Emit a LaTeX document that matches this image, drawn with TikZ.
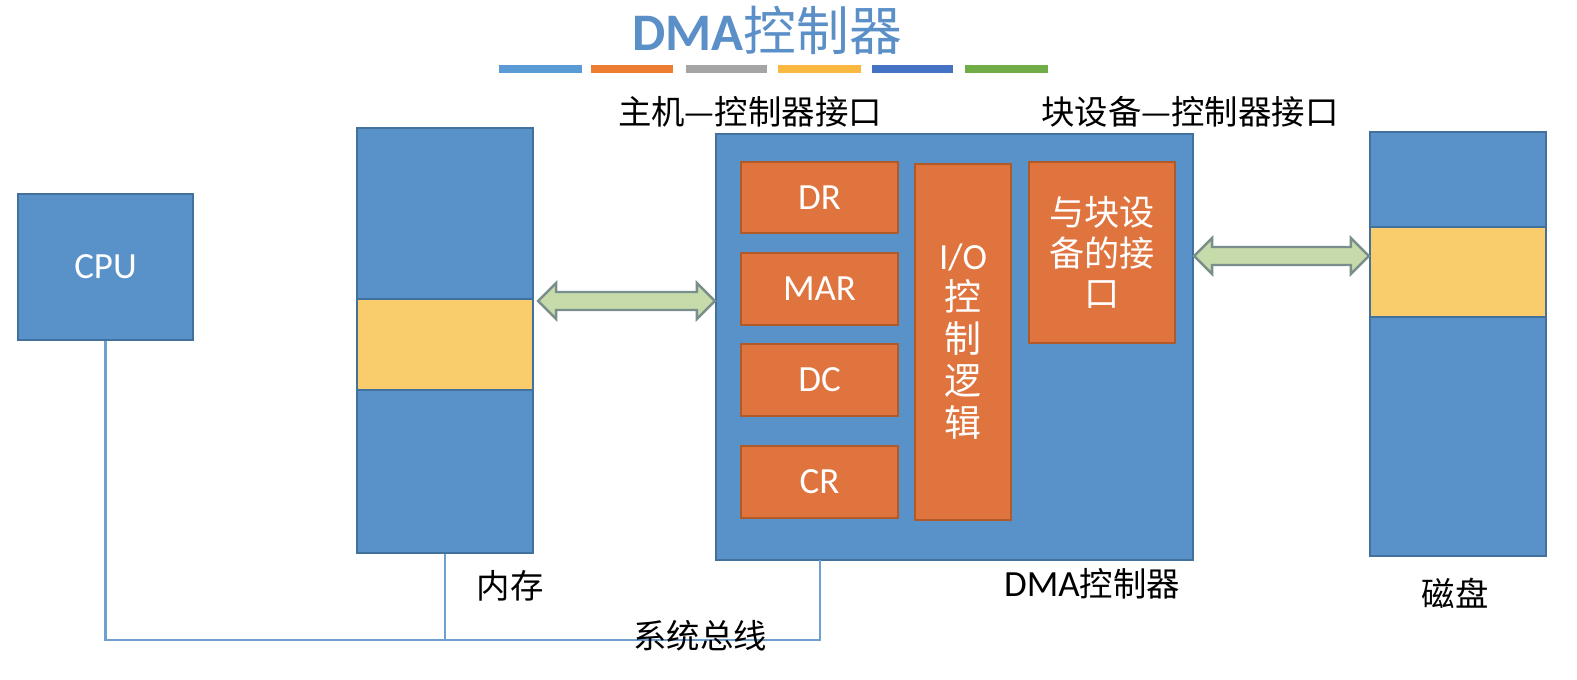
\documentclass[tikz,border=0pt]{standalone}
\usepackage{fontspec}
\setmainfont{Carlito}
\newfontfamily\cjk{Noto Sans CJK SC}
\usetikzlibrary{calc}
\definecolor{boxblue}{HTML}{5892C9}
\definecolor{boxblueline}{HTML}{41719C}
\definecolor{boxorange}{HTML}{E0743F}
\definecolor{boxorangeline}{HTML}{B05A2A}
\definecolor{boxyellow}{HTML}{F9CD6B}
\definecolor{titleblue}{HTML}{5B8FC8}
\definecolor{arrowfill}{HTML}{C6DAAA}
\definecolor{arrowline}{HTML}{7A8F8C}
\definecolor{busline}{HTML}{6FA0D0}
\definecolor{barA}{HTML}{5B9BD5}
\definecolor{barB}{HTML}{ED7D31}
\definecolor{barC}{HTML}{A5A5A5}
\definecolor{barD}{HTML}{F9B840}
\definecolor{barE}{HTML}{4472C4}
\definecolor{barF}{HTML}{70AD47}
\tikzset{
  bluebox/.style={draw=boxblueline, fill=boxblue, line width=0.6pt, inner sep=0pt, text=white, font=\fontsize{10.5}{12}\selectfont},
  orangebox/.style={draw=boxorangeline, fill=boxorange, line width=0.5pt, inner sep=0pt, text=white, align=center, font=\fontsize{10.5}{12}\selectfont},
  yellowband/.style={draw=boxblueline, fill=boxyellow, line width=0.5pt, inner sep=0pt},
  lbl/.style={text=black, inner sep=0pt, font=\cjk\fontsize{9.5}{11}\selectfont},
  darr/.style={draw=arrowline, fill=arrowfill, line width=0.7pt, line join=miter},
  bus/.style={draw=busline, line width=0.7pt},
  bar/.style={line width=0.07cm}
}
\begin{document}
\begin{tikzpicture}[x=0.01cm,y=-0.01cm]
\useasboundingbox (0,0) rectangle (1577,679);
% title
\node[text=titleblue, inner sep=0pt, font=\fontsize{15}{16}\selectfont] (title) at (767,30) {\textbf{DMA}{\cjk 控制器}};
\draw[bar, barA] (499,69) -- (582,69);
\draw[bar, barB] (591,69) -- (673,69);
\draw[bar, barC] (686,69) -- (767,69);
\draw[bar, barD] (778,69) -- (861,69);
\draw[bar, barE] (872,69) -- (953,69);
\draw[bar, barF] (965,69) -- (1048,69);
% CPU
\node[bluebox, minimum width=1.75cm, minimum height=1.46cm] (cpu) at (105.5,267) {CPU};
% memory
\node[bluebox, minimum width=1.76cm, minimum height=4.25cm] (mem) at (445,340.5) {};
\node[yellowband, minimum width=1.76cm, minimum height=0.91cm] (memY) at (445,344.5) {};
\node[lbl] (memL) at (510,586) {内存};
% DMA controller
\node[bluebox, minimum width=4.77cm, minimum height=4.26cm] (dma) at (954.5,347) {};
\node[orangebox, minimum width=1.57cm, minimum height=0.71cm] (dr) at (819.5,197.5) {DR};
\node[orangebox, minimum width=1.57cm, minimum height=0.72cm] (mar) at (819.5,289) {MAR};
\node[orangebox, minimum width=1.57cm, minimum height=0.72cm] (dc) at (819.5,380) {DC};
\node[orangebox, minimum width=1.57cm, minimum height=0.72cm] (cr) at (819.5,482) {CR};
\node[orangebox, minimum width=0.96cm, minimum height=3.56cm, font=\fontsize{10.5}{12}\selectfont] (io) at (963,342) {I/O\\[-0.5pt]{\cjk 控}\\{\cjk 制}\\{\cjk 逻}\\{\cjk 辑}};
\node[orangebox, minimum width=1.46cm, minimum height=1.81cm, font=\cjk\fontsize{10}{11.5}\selectfont] (blk) at (1102,252.5) {与块设\\备的接\\口};
\node[lbl] (dmaL) at (1092,584) {{\fontspec{Carlito}\fontsize{10.5}{12}\selectfont DMA}控制器};
\node[lbl] (hostL) at (750,112) {主机—控制器接口};
\node[lbl] (blkL) at (1190,112) {块设备—控制器接口};
% disk
\node[bluebox, minimum width=1.76cm, minimum height=4.24cm] (disk) at (1458,344) {};
\node[yellowband, minimum width=1.76cm, minimum height=0.90cm] (diskY) at (1458,272) {};
\node[lbl] (diskL) at (1455,593) {磁盘};
% double arrows
\coordinate (a1l) at (mem.east |- 0,301);
\coordinate (a1r) at (dma.west |- 0,301);
\draw[darr] ($(a1l)+(4,0)$) -- ++(18,-18) -- ++(0,9) -- ($(a1r)+(-18,-9)$) -- ++(0,-9) -- (a1r) -- ++(-18,18) -- ++(0,-9) -- ($(a1l)+(22,9)$) -- ++(0,9) -- cycle;
\coordinate (a2l) at (dma.east |- 0,256);
\coordinate (a2r) at (disk.west |- 0,256);
\draw[darr] (a2l) -- ++(18,-18) -- ++(0,9) -- ($(a2r)+(-18,-9)$) -- ++(0,-9) -- (a2r) -- ++(-18,18) -- ++(0,-9) -- ($(a2l)+(18,9)$) -- ++(0,9) -- cycle;
% system bus
\coordinate (dmabus) at (820,560);
\draw[bus] (cpu.south) |- (dmabus |- 0,640) -- (dmabus);
\draw[bus] (mem.south) -- (mem.south |- 0,640);
\node[lbl] (busL) at (700,636) {系统总线};
\end{tikzpicture}
\end{document}
